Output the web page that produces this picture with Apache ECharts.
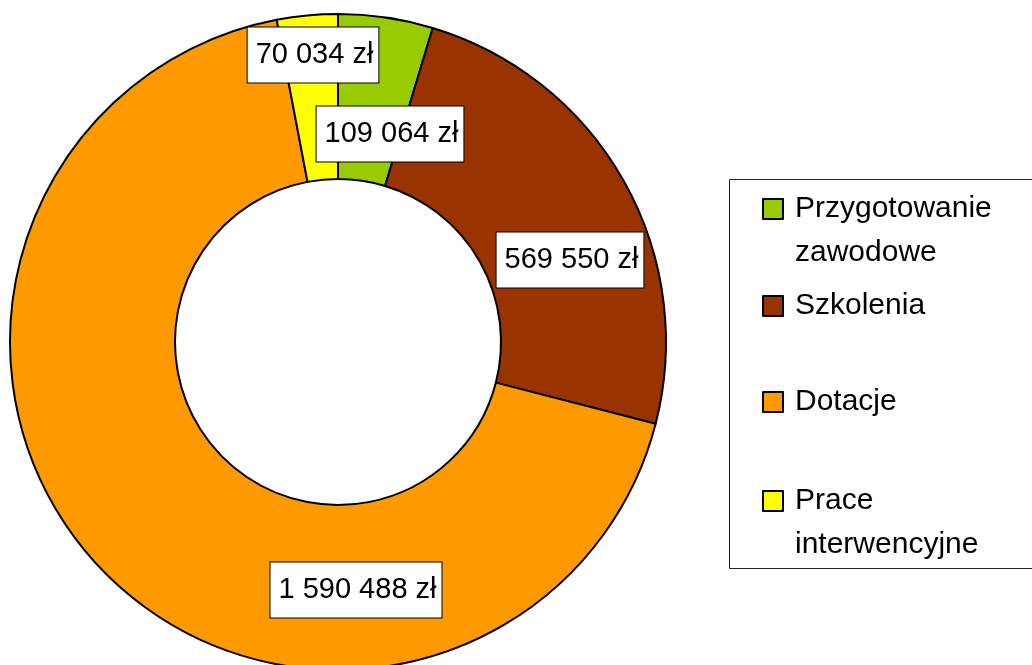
<!DOCTYPE html>
<html>
<head>
<meta charset="utf-8">
<script src="https://cdn.jsdelivr.net/npm/echarts@6/dist/echarts.min.js"></script>
<style>
  html, body { margin: 0; padding: 0; background: #fff; }
  #chart { width: 1032px; height: 665px; }
</style>
</head>
<body>
<div id="chart"></div>
<script>
// dane
var categories = ['Przygotowanie zawodowe', 'Szkolenia', 'Dotacje', 'Prace interwencyjne'];
var legendText = ['Przygotowanie\nzawodowe', 'Szkolenia', 'Dotacje', 'Prace\ninterwencyjne'];
var values = [109064, 569550, 1590488, 70034];
var colors = ['#99cc00', '#993300', '#ff9900', '#ffff00'];

// gdzie stoja etykiety (srodek ramki)
var labelPos = [[390, 134], [570, 260], [356, 590], [313, 55]];
// srodki ikon legendy
var legendY = [209, 306, 402, 501];

var FONT = '"Liberation Sans", Arial, sans-serif';

function fmtZl(v) {
    return String(v).replace(/\B(?=(\d{3})+(?!\d))/g, ' ') + ' zł';
}

var chart = echarts.init(document.getElementById('chart'));

// ikona ma stac przy pierwszej linii, wiec dla dwoch linii dokladam pusta linie na gorze
var legends = categories.map(function (name, i) {
    var twoLines = legendText[i].indexOf('\n') >= 0;
    return {
        orient: 'vertical',
        left: 762,
        top: legendY[i] - (twoLines ? 66 : 22),
        padding: 0,
        selectedMode: false,
        icon: 'rect',
        itemWidth: 20,
        itemHeight: 20,
        data: [name],
        formatter: function (n) {
            var t = legendText[categories.indexOf(n)];
            return t.indexOf('\n') >= 0 ? ' \n' + t : t;
        },
        textStyle: {
            fontFamily: FONT,
            fontSize: 30,
            color: '#000',
            lineHeight: 44,
            padding: [0, 0, 0, 7]
        }
    };
});

var option = {
    animation: false,
    color: colors,
    legend: legends,
    graphic: [{
        type: 'rect',
        shape: { x: 729.5, y: 179.5, width: 320, height: 389 },
        style: { fill: 'none', stroke: '#222', lineWidth: 1 },
        z: -1
    }],
    series: [{
        type: 'pie',
        center: [338, 342],
        radius: [163, 328],
        startAngle: 90,
        clockwise: true,
        avoidLabelOverlap: false,
        emphasis: { disabled: true },
        itemStyle: {
            borderColor: '#000',
            borderWidth: 2
        },
        label: {
            show: true,
            position: 'inside',
            formatter: function (p) { return fmtZl(p.value); },
            fontFamily: FONT,
            fontSize: 29,
            color: '#000',
            lineHeight: 33,
            backgroundColor: '#fff',
            borderColor: '#000',
            borderWidth: 1,
            padding: [11, 5, 11, 8]
        },
        labelLine: { show: false },
        labelLayout: function (params) {
            var p = labelPos[params.dataIndex];
            return { x: p[0], y: p[1], align: 'center', verticalAlign: 'middle' };
        },
        data: categories.map(function (c, i) {
            return { name: c, value: values[i] };
        })
    }]
};

chart.setOption(option);
</script>
</body>
</html>
